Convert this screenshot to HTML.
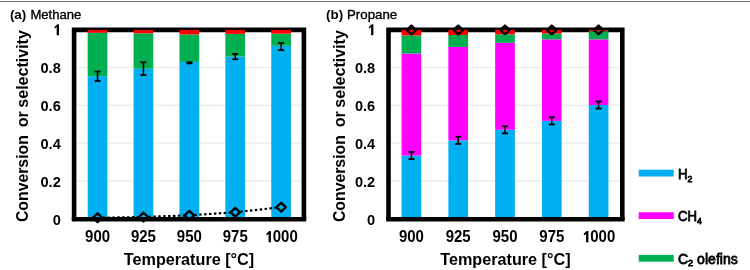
<!DOCTYPE html>
<html><head><meta charset="utf-8"><style>
html,body{margin:0;padding:0;background:#fff;}
svg{display:block;filter:blur(0.6px);font-family:"Liberation Sans",sans-serif;}
</style></head><body>
<svg width="750" height="270" viewBox="0 0 750 270">
<rect x="0" y="0" width="750" height="270" fill="#fff"/>
<rect x="-5" y="1" width="760" height="1" fill="#6b6b6b"/>
<line x1="74.10" y1="181.06" x2="303.90" y2="181.06" stroke="#EEEEEE" stroke-width="1.6" />
<line x1="74.10" y1="143.22" x2="303.90" y2="143.22" stroke="#EEEEEE" stroke-width="1.6" />
<line x1="74.10" y1="105.38" x2="303.90" y2="105.38" stroke="#EEEEEE" stroke-width="1.6" />
<line x1="74.10" y1="67.54" x2="303.90" y2="67.54" stroke="#EEEEEE" stroke-width="1.6" />
<path d="M74.10,220.10 L74.10,29.90 L303.90,29.90 L303.90,220.10" fill="none" stroke="#000" stroke-width="4.6" stroke-linejoin="miter"/>
<rect x="87.70" y="76.25" width="19.70" height="142.85" fill="#00B0F0"/>
<rect x="87.70" y="32.74" width="19.70" height="43.52" fill="#00B050"/>
<rect x="87.70" y="29.90" width="19.70" height="2.84" fill="#FF0000"/>
<rect x="133.59" y="68.69" width="19.70" height="150.41" fill="#00B0F0"/>
<rect x="133.59" y="33.31" width="19.70" height="35.38" fill="#00B050"/>
<rect x="133.59" y="29.90" width="19.70" height="3.41" fill="#FF0000"/>
<rect x="179.48" y="61.87" width="19.70" height="157.23" fill="#00B0F0"/>
<rect x="179.48" y="34.44" width="19.70" height="27.43" fill="#00B050"/>
<rect x="179.48" y="29.90" width="19.70" height="4.54" fill="#FF0000"/>
<rect x="225.37" y="56.58" width="19.70" height="162.52" fill="#00B0F0"/>
<rect x="225.37" y="33.87" width="19.70" height="22.70" fill="#00B050"/>
<rect x="225.37" y="29.90" width="19.70" height="3.97" fill="#FF0000"/>
<rect x="271.26" y="45.79" width="19.70" height="173.31" fill="#00B0F0"/>
<rect x="271.26" y="33.68" width="19.70" height="12.11" fill="#00B050"/>
<rect x="271.26" y="29.90" width="19.70" height="3.78" fill="#FF0000"/>
<line x1="71.80" y1="219.25" x2="306.20" y2="219.25" stroke="#000" stroke-width="4.4" />
<line x1="97.55" y1="71.52" x2="97.55" y2="80.98" stroke="#000" stroke-width="1.6" />
<line x1="94.55" y1="71.52" x2="100.55" y2="71.52" stroke="#000" stroke-width="1.8" />
<line x1="94.55" y1="80.98" x2="100.55" y2="80.98" stroke="#000" stroke-width="1.8" />
<line x1="143.44" y1="62.25" x2="143.44" y2="75.12" stroke="#000" stroke-width="1.6" />
<line x1="140.44" y1="62.25" x2="146.44" y2="62.25" stroke="#000" stroke-width="1.8" />
<line x1="140.44" y1="75.12" x2="146.44" y2="75.12" stroke="#000" stroke-width="1.8" />
<line x1="189.33" y1="62.25" x2="189.33" y2="63.39" stroke="#000" stroke-width="1.6" />
<line x1="186.33" y1="62.25" x2="192.33" y2="62.25" stroke="#000" stroke-width="1.8" />
<line x1="186.33" y1="63.39" x2="192.33" y2="63.39" stroke="#000" stroke-width="1.8" />
<line x1="235.22" y1="53.93" x2="235.22" y2="59.23" stroke="#000" stroke-width="1.6" />
<line x1="232.22" y1="53.93" x2="238.22" y2="53.93" stroke="#000" stroke-width="1.8" />
<line x1="232.22" y1="59.23" x2="238.22" y2="59.23" stroke="#000" stroke-width="1.8" />
<line x1="281.11" y1="42.95" x2="281.11" y2="50.14" stroke="#000" stroke-width="1.6" />
<line x1="278.11" y1="42.95" x2="284.11" y2="42.95" stroke="#000" stroke-width="1.8" />
<line x1="278.11" y1="50.14" x2="284.11" y2="50.14" stroke="#000" stroke-width="1.8" />
<line x1="102.55" y1="217.69" x2="138.44" y2="217.10" stroke="#000" stroke-width="2.2" stroke-dasharray="2.5 2.4"/>
<line x1="148.44" y1="216.83" x2="184.33" y2="215.50" stroke="#000" stroke-width="2.2" stroke-dasharray="2.5 2.4"/>
<line x1="194.32" y1="214.99" x2="230.23" y2="212.62" stroke="#000" stroke-width="2.2" stroke-dasharray="2.5 2.4"/>
<line x1="240.19" y1="211.74" x2="276.14" y2="207.73" stroke="#000" stroke-width="2.2" stroke-dasharray="2.5 2.4"/>
<path d="M97.55,213.38 L102.25,217.78 L97.55,222.18 L92.85,217.78 Z" fill="none" stroke="#000" stroke-width="2.3" stroke-linejoin="round"/>
<path d="M143.44,212.62 L148.14,217.02 L143.44,221.42 L138.74,217.02 Z" fill="none" stroke="#000" stroke-width="2.3" stroke-linejoin="round"/>
<path d="M189.33,210.92 L194.03,215.32 L189.33,219.72 L184.63,215.32 Z" fill="none" stroke="#000" stroke-width="2.3" stroke-linejoin="round"/>
<path d="M235.22,207.89 L239.92,212.29 L235.22,216.69 L230.52,212.29 Z" fill="none" stroke="#000" stroke-width="2.3" stroke-linejoin="round"/>
<path d="M281.11,202.78 L285.81,207.18 L281.11,211.58 L276.41,207.18 Z" fill="none" stroke="#000" stroke-width="2.3" stroke-linejoin="round"/>
<text x="0" y="0" transform="translate(60.80 73.19) scale(1 1.06)" font-size="14.6" font-weight="700" text-anchor="end" >0.8</text>
<text x="0" y="0" transform="translate(60.80 111.03) scale(1 1.06)" font-size="14.6" font-weight="700" text-anchor="end" >0.6</text>
<text x="0" y="0" transform="translate(60.80 148.87) scale(1 1.06)" font-size="14.6" font-weight="700" text-anchor="end" >0.4</text>
<text x="0" y="0" transform="translate(60.80 186.71) scale(1 1.06)" font-size="14.6" font-weight="700" text-anchor="end" >0.2</text>
<text x="0" y="0" transform="translate(60.80 224.55) scale(1 1.06)" font-size="14.6" font-weight="700" text-anchor="end" >0</text>
<path d="M59.00,35.35 L59.00,24.22 L57.43,24.22 L54.58,26.68 L54.58,28.70 L56.70,26.99 L56.70,35.35 Z" fill="#000"/>
<text x="0" y="0" transform="translate(97.55 242.30) scale(1 1.04)" font-size="15" font-weight="700" text-anchor="middle" >900</text>
<text x="0" y="0" transform="translate(143.44 242.30) scale(1 1.04)" font-size="15" font-weight="700" text-anchor="middle" >925</text>
<text x="0" y="0" transform="translate(189.33 242.30) scale(1 1.04)" font-size="15" font-weight="700" text-anchor="middle" >950</text>
<text x="0" y="0" transform="translate(235.22 242.30) scale(1 1.04)" font-size="15" font-weight="700" text-anchor="middle" >975</text>
<path d="M270.93,242.30 L270.93,231.08 L269.31,231.08 L266.38,233.56 L266.38,235.59 L268.56,233.88 L268.56,242.30 Z" fill="#000"/>
<text x="0" y="0" transform="translate(272.77 242.30) scale(1 1.04)" font-size="15" font-weight="700" text-anchor="start" >000</text>
<text x="189.00" y="264.50" font-size="16.2" font-weight="700" text-anchor="middle" >Temperature [°C]</text>
<text x="28.10" y="222.06" font-size="16.22" font-weight="700" text-anchor="start" transform="rotate(-90 28.1 222.06)" textLength="86.9" lengthAdjust="spacingAndGlyphs">Conversion</text>
<text x="28.10" y="127.30" font-size="16.22" font-weight="700" text-anchor="start" transform="rotate(-90 28.1 127.3)" textLength="16.2" lengthAdjust="spacingAndGlyphs">or</text>
<text x="28.10" y="107.70" font-size="16.22" font-weight="700" text-anchor="start" transform="rotate(-90 28.1 107.7)" textLength="77.6" lengthAdjust="spacingAndGlyphs">selectivity</text>
<text x="9.90" y="19.00" font-size="13.4" font-weight="700" text-anchor="start" >(a)</text>
<text x="30.40" y="19.00" font-size="13" font-weight="400" text-anchor="start" textLength="50.9" lengthAdjust="spacingAndGlyphs" stroke="#000" stroke-width="0.35">Methane</text>
<line x1="388.50" y1="181.06" x2="622.30" y2="181.06" stroke="#EEEEEE" stroke-width="1.6" />
<line x1="388.50" y1="143.22" x2="622.30" y2="143.22" stroke="#EEEEEE" stroke-width="1.6" />
<line x1="388.50" y1="105.38" x2="622.30" y2="105.38" stroke="#EEEEEE" stroke-width="1.6" />
<line x1="388.50" y1="67.54" x2="622.30" y2="67.54" stroke="#EEEEEE" stroke-width="1.6" />
<path d="M388.50,220.10 L388.50,29.90 L622.30,29.90 L622.30,220.10" fill="none" stroke="#000" stroke-width="4.6" stroke-linejoin="miter"/>
<rect x="401.55" y="155.53" width="19.70" height="63.57" fill="#00B0F0"/>
<rect x="401.55" y="53.55" width="19.70" height="101.98" fill="#FF00FF"/>
<rect x="401.55" y="35.39" width="19.70" height="18.16" fill="#00B050"/>
<rect x="401.55" y="29.90" width="19.70" height="5.49" fill="#FF0000"/>
<rect x="448.35" y="140.39" width="19.70" height="78.71" fill="#00B0F0"/>
<rect x="448.35" y="46.93" width="19.70" height="93.46" fill="#FF00FF"/>
<rect x="448.35" y="35.01" width="19.70" height="11.92" fill="#00B050"/>
<rect x="448.35" y="29.90" width="19.70" height="5.11" fill="#FF0000"/>
<rect x="495.15" y="129.80" width="19.70" height="89.30" fill="#00B0F0"/>
<rect x="495.15" y="42.77" width="19.70" height="87.03" fill="#FF00FF"/>
<rect x="495.15" y="34.25" width="19.70" height="8.51" fill="#00B050"/>
<rect x="495.15" y="29.90" width="19.70" height="4.35" fill="#FF0000"/>
<rect x="541.95" y="120.91" width="19.70" height="98.19" fill="#00B0F0"/>
<rect x="541.95" y="39.36" width="19.70" height="81.55" fill="#FF00FF"/>
<rect x="541.95" y="33.49" width="19.70" height="5.87" fill="#00B050"/>
<rect x="541.95" y="29.90" width="19.70" height="3.59" fill="#FF0000"/>
<rect x="588.75" y="105.01" width="19.70" height="114.09" fill="#00B0F0"/>
<rect x="588.75" y="39.36" width="19.70" height="65.65" fill="#FF00FF"/>
<rect x="588.75" y="31.22" width="19.70" height="8.14" fill="#00B050"/>
<rect x="588.75" y="29.90" width="19.70" height="1.32" fill="#FF0000"/>
<line x1="386.20" y1="219.25" x2="624.60" y2="219.25" stroke="#000" stroke-width="4.4" />
<line x1="411.40" y1="151.93" x2="411.40" y2="159.12" stroke="#000" stroke-width="1.6" />
<line x1="408.40" y1="151.93" x2="414.40" y2="151.93" stroke="#000" stroke-width="1.8" />
<line x1="408.40" y1="159.12" x2="414.40" y2="159.12" stroke="#000" stroke-width="1.8" />
<line x1="458.20" y1="136.80" x2="458.20" y2="143.99" stroke="#000" stroke-width="1.6" />
<line x1="455.20" y1="136.80" x2="461.20" y2="136.80" stroke="#000" stroke-width="1.8" />
<line x1="455.20" y1="143.99" x2="461.20" y2="143.99" stroke="#000" stroke-width="1.8" />
<line x1="505.00" y1="126.20" x2="505.00" y2="133.39" stroke="#000" stroke-width="1.6" />
<line x1="502.00" y1="126.20" x2="508.00" y2="126.20" stroke="#000" stroke-width="1.8" />
<line x1="502.00" y1="133.39" x2="508.00" y2="133.39" stroke="#000" stroke-width="1.8" />
<line x1="551.80" y1="117.31" x2="551.80" y2="124.50" stroke="#000" stroke-width="1.6" />
<line x1="548.80" y1="117.31" x2="554.80" y2="117.31" stroke="#000" stroke-width="1.8" />
<line x1="548.80" y1="124.50" x2="554.80" y2="124.50" stroke="#000" stroke-width="1.8" />
<line x1="598.60" y1="101.42" x2="598.60" y2="108.61" stroke="#000" stroke-width="1.6" />
<line x1="595.60" y1="101.42" x2="601.60" y2="101.42" stroke="#000" stroke-width="1.8" />
<line x1="595.60" y1="108.61" x2="601.60" y2="108.61" stroke="#000" stroke-width="1.8" />
<path d="M411.40,25.50 L416.10,29.90 L411.40,34.30 L406.70,29.90 Z" fill="none" stroke="#000" stroke-width="2.3" stroke-linejoin="round"/>
<path d="M458.20,25.50 L462.90,29.90 L458.20,34.30 L453.50,29.90 Z" fill="none" stroke="#000" stroke-width="2.3" stroke-linejoin="round"/>
<path d="M505.00,25.50 L509.70,29.90 L505.00,34.30 L500.30,29.90 Z" fill="none" stroke="#000" stroke-width="2.3" stroke-linejoin="round"/>
<path d="M551.80,25.50 L556.50,29.90 L551.80,34.30 L547.10,29.90 Z" fill="none" stroke="#000" stroke-width="2.3" stroke-linejoin="round"/>
<path d="M598.60,25.50 L603.30,29.90 L598.60,34.30 L593.90,29.90 Z" fill="none" stroke="#000" stroke-width="2.3" stroke-linejoin="round"/>
<text x="0" y="0" transform="translate(375.20 73.19) scale(1 1.06)" font-size="14.6" font-weight="700" text-anchor="end" >0.8</text>
<text x="0" y="0" transform="translate(375.20 111.03) scale(1 1.06)" font-size="14.6" font-weight="700" text-anchor="end" >0.6</text>
<text x="0" y="0" transform="translate(375.20 148.87) scale(1 1.06)" font-size="14.6" font-weight="700" text-anchor="end" >0.4</text>
<text x="0" y="0" transform="translate(375.20 186.71) scale(1 1.06)" font-size="14.6" font-weight="700" text-anchor="end" >0.2</text>
<text x="0" y="0" transform="translate(375.20 224.55) scale(1 1.06)" font-size="14.6" font-weight="700" text-anchor="end" >0</text>
<path d="M373.40,35.35 L373.40,24.22 L371.83,24.22 L368.98,26.68 L368.98,28.70 L371.10,26.99 L371.10,35.35 Z" fill="#000"/>
<text x="0" y="0" transform="translate(411.40 242.30) scale(1 1.04)" font-size="15" font-weight="700" text-anchor="middle" >900</text>
<text x="0" y="0" transform="translate(458.20 242.30) scale(1 1.04)" font-size="15" font-weight="700" text-anchor="middle" >925</text>
<text x="0" y="0" transform="translate(505.00 242.30) scale(1 1.04)" font-size="15" font-weight="700" text-anchor="middle" >950</text>
<text x="0" y="0" transform="translate(551.80 242.30) scale(1 1.04)" font-size="15" font-weight="700" text-anchor="middle" >975</text>
<path d="M588.41,242.30 L588.41,231.08 L586.79,231.08 L583.87,233.56 L583.87,235.59 L586.04,233.88 L586.04,242.30 Z" fill="#000"/>
<text x="0" y="0" transform="translate(590.26 242.30) scale(1 1.04)" font-size="15" font-weight="700" text-anchor="start" >000</text>
<text x="505.40" y="264.50" font-size="16.2" font-weight="700" text-anchor="middle" >Temperature [°C]</text>
<text x="345.30" y="222.06" font-size="16.22" font-weight="700" text-anchor="start" transform="rotate(-90 345.3 222.06)" textLength="86.9" lengthAdjust="spacingAndGlyphs">Conversion</text>
<text x="345.30" y="127.30" font-size="16.22" font-weight="700" text-anchor="start" transform="rotate(-90 345.3 127.3)" textLength="16.2" lengthAdjust="spacingAndGlyphs">or</text>
<text x="345.30" y="107.70" font-size="16.22" font-weight="700" text-anchor="start" transform="rotate(-90 345.3 107.7)" textLength="77.6" lengthAdjust="spacingAndGlyphs">selectivity</text>
<text x="326.00" y="19.00" font-size="13.4" font-weight="700" text-anchor="start" >(b)</text>
<text x="347.00" y="19.00" font-size="13" font-weight="400" text-anchor="start" textLength="50.2" lengthAdjust="spacingAndGlyphs" stroke="#000" stroke-width="0.35">Propane</text>
<rect x="638.70" y="169.70" width="35.00" height="6.80" fill="#00B0F0"/>
<text x="0.00" y="0.00" font-size="13" font-weight="400" text-anchor="start" transform="translate(677.9 179.2) scale(1 1.1)" stroke="#000" stroke-width="0.7" textLength="14.4" lengthAdjust="spacingAndGlyphs">H<tspan font-size="8.5" dy="2.2">2</tspan></text>
<rect x="638.70" y="212.25" width="35.00" height="6.80" fill="#FF00FF"/>
<text x="0.00" y="0.00" font-size="13" font-weight="400" text-anchor="start" transform="translate(677.9 221.3) scale(1 1.1)" stroke="#000" stroke-width="0.7" textLength="23.8" lengthAdjust="spacingAndGlyphs">CH<tspan font-size="8.5" dy="2.2">4</tspan></text>
<rect x="638.70" y="254.90" width="35.00" height="6.80" fill="#00B050"/>
<text x="0.00" y="0.00" font-size="13" font-weight="400" text-anchor="start" transform="translate(677.9 263.5) scale(1 1.1)" stroke="#000" stroke-width="0.7" textLength="59.9" lengthAdjust="spacingAndGlyphs">C<tspan font-size="8.5" dy="2.2">2</tspan><tspan dy="-2.2"> olefins</tspan></text>
</svg></body></html>
